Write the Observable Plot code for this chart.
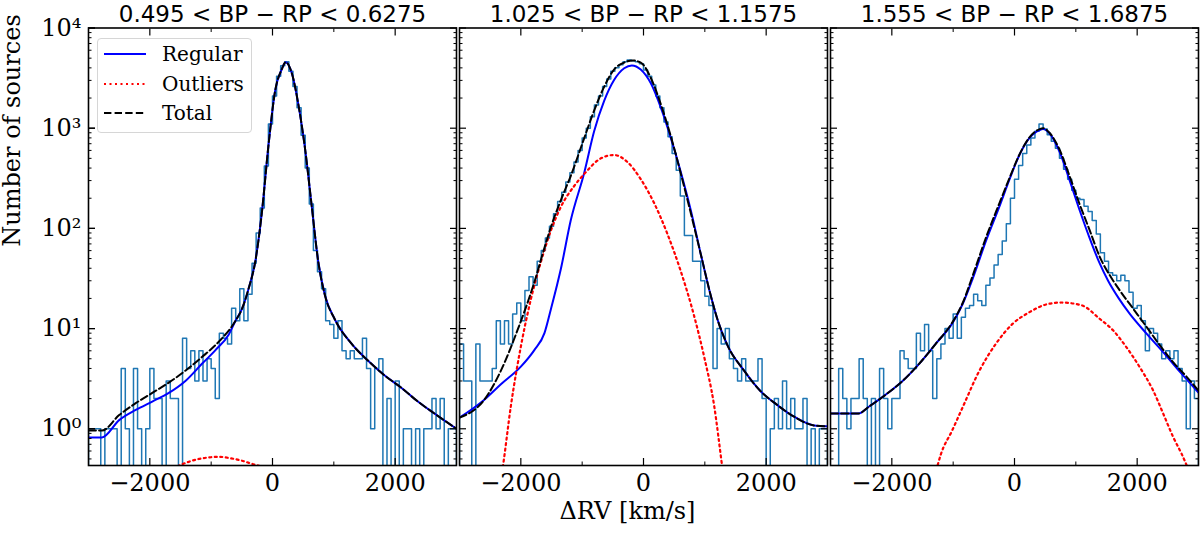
<!DOCTYPE html>
<html lang="en">
<head>
<meta charset="utf-8">
<title>Delta RV histograms by colour bin</title>
<script src="https://cdn.jsdelivr.net/npm/d3@7"></script>
<script src="https://cdn.jsdelivr.net/npm/@observablehq/plot@0.6"></script>
<style>
  body { margin: 0; background: white; overflow: hidden; }
  #wrap { position: relative; width: 1200px; height: 535px; }
  #legend {
    position: absolute; left: 97px; top: 37.5px; width: 155px; height: 95px;
    box-sizing: border-box; border: 1px solid #d6d6d6; border-radius: 4px;
    background: rgba(255,255,255,0.8);
    font-family: 'DejaVu Serif', serif; font-size: 20px; color: #000;
  }
  .item { position: absolute; left: 0; height: 24px; line-height: 24px; display: flex; align-items: center; }
  .item svg { margin-left: 6px; margin-right: 16px; }
</style>
</head>
<body>
<div id="wrap">
  <div id="graphic"></div>
  <div id="legend">
    <div class="item" style="top:3px"><svg width="42" height="8"><line x1="0" x2="42" y1="4" y2="4" stroke="#0000ff" stroke-width="2"/></svg>Regular</div>
    <div class="item" style="top:33px"><svg width="42" height="8"><line x1="0" x2="42" y1="4" y2="4" stroke="#ff0000" stroke-width="2.2" stroke-dasharray="2,3.5"/></svg>Outliers</div>
    <div class="item" style="top:62px"><svg width="42" height="8"><line x1="0" x2="42" y1="4" y2="4" stroke="#000" stroke-width="2" stroke-dasharray="7.4,3.2"/></svg>Total</div>
  </div>
</div>

<script>
  const panelTitles = ["0.495 < BP − RP < 0.6275", "1.025 < BP − RP < 1.1575", "1.555 < BP − RP < 1.6875"];
  const xLabel = "ΔRV [km/s]";
  const yLabel = "Number of sources";

  // 90 bins of width 66.7 km/s from -3000 to 3000
  const binEdges = d3.range(91).map(i => -3000 + i * 6000 / 90);

  const countsA = [1,1,1,0,1,1,1,0,4,1, 0,4,1,0,1,4,2,2,0,3, 2,2,0,8,4,6,3,6,3,5,
    4,2,9,8,7,16,12,25,12,22, 45,90,160,420,1100,2100,3300,4200,4600,3700,
    2600,1600,850,400,175,60,37,25,12,11, 8,12,6,5,6,5,5,8,4,1,
    4,5,0,2,0,3,0,1,1,0, 1,0,1,1,2,1,2,0,1,1];
  const countsB = [7,3,3,0,7,3,3,3,4,12, 7,12,7,14,18,12,24,33,27,47,
    60,80,105,140,185,230,290,360,460,600, 800,1000,1300,1700,2100,2600,3100,3700,4000,4300,
    4600,4800,4700,4600,4400,3800,3300,2700,2100,1600, 1150,820,560,380,210,85,85,47,47,30,
    21,17,4,10,7,10,5,4,3,5, 3,3,3,5,2,0,1,2,1,3, 1,2,1,1,2,0,1,0,1,1];
  const countsC = [0,0,4,2,1,2,2,5,2,0, 2,0,4,2,1,2,2,6,5,4, 4,9,6,11,6,2,5,7,10,8,
    14,8,13,16,17,22,19,17,27,32, 43,55,75,111,200,310,424,560,680,800,
    930,1100,980,860,740,630,500,390,310,240, 200,194,166,147,120,88,57,47,36,34,
    30,34,30,23,16,17,12,6,10,9, 7,5,6,5,6,4,3,1,3,2];

  const regularA = [[-3000,0.82],[-2780,0.82],[-2500,1.22],[-2230,1.54],[-1960,1.87],[-1690,2.28],[-1420,3.0],[-1150,4.45],[-930,6.1],[-715,8.7],[-605,11.9],[-500,15.6],[-390,25],[-280,47],[-175,141],[-65,680],[45,2400],[150,3860],[215,4550],[315,3540],[420,1750],[530,630],[640,166],[745,47],[855,21.5],[1015,12.4],[1285,7.1],[1555,4.8],[1830,3.4],[2100,2.57],[2370,1.87],[2640,1.42],[3000,1.0]];
  const outliersA = [[-2200,0.28],[-1900,0.35],[-1600,0.41],[-1400,0.46],[-1200,0.5],[-1000,0.52],[-880,0.525],[-700,0.51],[-500,0.48],[-300,0.44],[-120,0.41],[100,0.36],[400,0.28]];
  const totalA = [[-3000,0.96],[-2780,0.96],[-2500,1.37],[-2230,1.8],[-1960,2.28],[-1690,2.89],[-1420,3.8],[-1150,5.2],[-875,7.4],[-605,11.9],[-500,15.6],[-390,25],[-280,47],[-175,141],[-65,680],[45,2400],[150,3860],[215,4550],[315,3540],[420,1750],[530,630],[640,166],[745,47],[855,21.5],[1015,12.4],[1285,7.1],[1555,4.8],[1830,3.4],[2100,2.57],[2370,1.87],[2640,1.42],[3000,1.0]];

  const regularB = [[-3000,1.29],[-2595,1.95],[-2325,2.78],[-2000,4.17],[-1780,6.1],[-1615,9.0],[-1510,15.6],[-1345,40],[-1185,121],[-965,362],[-805,930],[-640,1880],[-480,3020],[-315,3960],[-190,4230],[-45,3850],[120,2800],[280,1620],[445,800],[610,362],[770,153],[935,55],[1095,21.5],[1205,12.4],[1370,6.8],[1640,3.8],[1910,2.37],[2180,1.73],[2455,1.32],[2780,1.08],[3000,1.06]];
  const outliersB = [[-2450,0.12],[-2295,0.41],[-2160,1.73],[-2000,6.6],[-1835,19.8],[-1670,47],[-1510,95],[-1345,165],[-1130,265],[-965,350],[-695,500],[-480,540],[-260,458],[-45,310],[175,178],[390,88],[610,37],[825,13.4],[990,5.2],[1150,1.73],[1285,0.41],[1420,0.1]];
  const totalB = [[-3000,1.29],[-2595,1.95],[-2325,3.8],[-2050,9.8],[-1780,29],[-1615,64],[-1510,103],[-1345,193],[-1185,335],[-965,800],[-805,1500],[-640,2600],[-480,3850],[-315,4520],[-180,4750],[-45,4520],[120,3170],[280,1750],[445,830],[660,265],[935,55],[1095,21.5],[1205,12.4],[1370,6.8],[1640,3.8],[1910,2.37],[2180,1.73],[2455,1.32],[2780,1.08],[3000,1.06]];

  const regularC = [[-3000,1.42],[-2545,1.42],[-2370,1.67],[-2100,2.19],[-1825,3.0],[-1555,4.45],[-1280,7.1],[-1010,11.4],[-845,17.6],[-680,31.7],[-465,75],[-245,166],[-80,310],[80,540],[245,800],[410,960],[465,980],[570,890],[735,580],[900,300],[1065,150],[1225,80],[1380,46],[1526,30],[1700,20],[1880,14],[2153,8.9],[2426,5.8],[2698,3.7],[3000,2.3]];
  const outliersC = [[-1320,0.3],[-1199,0.56],[-1020,0.95],[-845,1.64],[-572,3.8],[-300,7.1],[-27,11.2],[245,14.6],[500,17.3],[760,18.2],[1091,17.1],[1390,12.5],[1607,9.6],[1826,6.5],[2044,4.1],[2262,2.4],[2426,1.41],[2590,0.82],[2726,0.56],[2860,0.36]];
  const totalC = [[-3000,1.42],[-2545,1.42],[-2370,1.67],[-2100,2.19],[-1825,3.0],[-1555,4.45],[-1280,7.1],[-1010,11.6],[-845,18],[-680,34],[-465,81],[-245,179],[-80,320],[80,545],[245,810],[410,980],[465,1000],[570,900],[735,610],[900,330],[1065,172],[1225,96],[1390,52],[1581,32],[1717,24],[1935,15.8],[2153,10.4],[2371,6.8],[2589,4.6],[2807,3.3],[3000,2.4]];

  const yMajor = [1, 10, 100, 1000, 10000];
  const yTickLabels = ["10⁰", "10¹", "10²", "10³", "10⁴"];
  const yMinor = [0.5,0.6,0.7,0.8,0.9, 2,3,4,5,6,7,8,9, 20,30,40,50,60,70,80,90,
    200,300,400,500,600,700,800,900, 2000,3000,4000,5000,6000,7000,8000,9000];
  const xMajor = [-2000, 0, 2000];
  const xTickLabels = ["−2000", "0", "2000"];
  const xMinor = [-3000, -1000, 1000, 3000];

  const zeroFloor = 0.1; // empty bins drop below the axis, clipped at the frame

  function histRows(panel, counts) {
    const n = counts.length;
    const rows = [{panel, x: binEdges[0], y: zeroFloor}];
    counts.forEach((c, i) => rows.push({panel, x: binEdges[i], y: c > 0 ? c : zeroFloor}));
    rows.push({panel, x: binEdges[n], y: counts[n - 1] > 0 ? counts[n - 1] : zeroFloor});
    rows.push({panel, x: binEdges[n], y: zeroFloor});
    return rows;
  }
  const curveRows = (panel, pts) => pts.map(([x, y]) => ({panel, x, y}));

  const hist = [
    ...histRows(panelTitles[0], countsA),
    ...histRows(panelTitles[1], countsB),
    ...histRows(panelTitles[2], countsC)
  ];
  const regular = [...curveRows(panelTitles[0], regularA), ...curveRows(panelTitles[1], regularB), ...curveRows(panelTitles[2], regularC)];
  const outliers = [...curveRows(panelTitles[0], outliersA), ...curveRows(panelTitles[1], outliersB), ...curveRows(panelTitles[2], outliersC)];
  const total = [...curveRows(panelTitles[0], totalA), ...curveRows(panelTitles[1], totalB), ...curveRows(panelTitles[2], totalC)];

  const blank = () => "";

  const chart = Plot.plot({
    width: 1200,
    height: 535,
    marginLeft: 87,
    marginRight: 1,
    marginTop: 27.5,
    marginBottom: 70,
    style: {fontFamily: "'DejaVu Serif', serif", fontSize: "24px", color: "black", background: "white", overflow: "visible"},
    fx: {domain: panelTitles, paddingInner: 0.009, paddingOuter: 0, axis: null, label: null},
    x: {domain: [-3000, 3000], axis: null},
    y: {type: "log", domain: [0.43, 10000], axis: null},
    marks: [
      Plot.line(hist, {x: "x", y: "y", fx: "panel", curve: "step-after", stroke: "#1f77b4", strokeWidth: 1.5, clip: true}),
      Plot.line(regular, {x: "x", y: "y", fx: "panel", curve: "monotone-x", stroke: "#0000ff", strokeWidth: 2, clip: true}),
      Plot.line(outliers, {x: "x", y: "y", fx: "panel", curve: "monotone-x", stroke: "#ff0000", strokeWidth: 2.2, strokeDasharray: "2,3.5", clip: true}),
      Plot.line(total, {x: "x", y: "y", fx: "panel", curve: "monotone-x", stroke: "#000000", strokeWidth: 2, strokeDasharray: "7.4,3.2", clip: true}),
      Plot.frame({stroke: "black", strokeWidth: 1.6}),

      Plot.axisY(yMajor, {anchor: "left", tickSize: -7, tickPadding: 14, strokeWidth: 1.2,
        tickFormat: d => yTickLabels[yMajor.indexOf(d)], label: null, fontSize: 24}),
      Plot.axisY(yMajor, {anchor: "left", facetAnchor: null, tickSize: -7, strokeWidth: 1.2, tickFormat: blank, label: null}),
      Plot.axisY(yMajor, {anchor: "right", facetAnchor: null, tickSize: -7, strokeWidth: 1.2, tickFormat: blank, label: null}),
      Plot.axisY(yMinor, {anchor: "left", facetAnchor: null, tickSize: -3.5, strokeWidth: 1, tickFormat: blank, label: null}),
      Plot.axisY(yMinor, {anchor: "right", facetAnchor: null, tickSize: -3.5, strokeWidth: 1, tickFormat: blank, label: null}),

      Plot.axisX(xMajor, {anchor: "bottom", tickSize: -7, tickPadding: 15, strokeWidth: 1.2,
        tickFormat: d => xTickLabels[xMajor.indexOf(d)], label: null, fontSize: 24}),
      Plot.axisX(xMajor, {anchor: "top", tickSize: -7, strokeWidth: 1.2, tickFormat: blank, label: null}),
      Plot.axisX(xMinor, {anchor: "bottom", tickSize: -3.5, strokeWidth: 1, tickFormat: blank, label: null}),
      Plot.axisX(xMinor, {anchor: "top", tickSize: -3.5, strokeWidth: 1, tickFormat: blank, label: null}),

      Plot.axisFx({anchor: "top", tickSize: 0, tickPadding: 6, label: null, fontFamily: "'DejaVu Sans', sans-serif", fontSize: 23}),
      Plot.text([panelTitles[0]], {fx: d => d, text: () => yLabel, frameAnchor: "left", rotate: -90, dx: -76, fontSize: 24}),
      Plot.text([panelTitles[1]], {fx: d => d, text: () => xLabel, frameAnchor: "bottom", dy: 53, dx: -16, fontSize: 24})
    ]
  });

  document.getElementById("graphic").appendChild(chart);
</script>
</body>
</html>
